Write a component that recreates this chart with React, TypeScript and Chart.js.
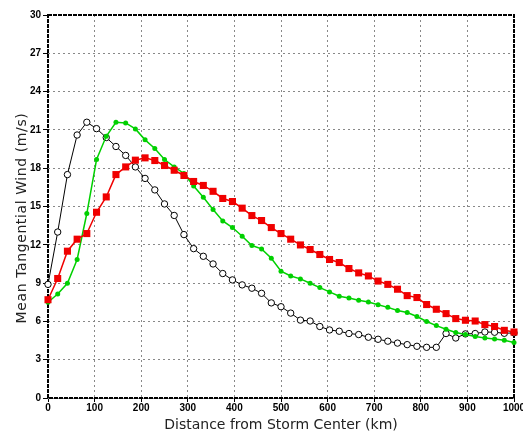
import React, { useEffect, useRef } from 'react';
import { Chart, registerables } from 'chart.js';

Chart.register(...registerables);

const distanceKm = [
  0, 20.8, 41.7, 62.5, 83.3, 104.2, 125, 145.8, 166.7, 187.5,
  208.3, 229.2, 250, 270.8, 291.7, 312.5, 333.3, 354.2, 375, 395.8,
  416.7, 437.5, 458.3, 479.2, 500, 520.8, 541.7, 562.5, 583.3, 604.2,
  625, 645.8, 666.7, 687.5, 708.3, 729.2, 750, 770.8, 791.7, 812.5,
  833.3, 854.2, 875, 895.8, 916.7, 937.5, 958.3, 979.2, 1000,
];

const blackWind = [
  8.9, 13.0, 17.5, 20.6, 21.6, 21.1, 20.4, 19.7, 19.0, 18.1,
  17.2, 16.3, 15.2, 14.3, 12.8, 11.7, 11.1, 10.5, 9.75, 9.25,
  8.86, 8.6, 8.2, 7.45, 7.15, 6.65, 6.1, 6.03, 5.6, 5.33,
  5.23, 5.05, 4.97, 4.76, 4.6, 4.45, 4.3, 4.18, 4.05, 3.97,
  3.97, 5.05, 4.7, 5.02, 5.05, 5.17, 5.15, 5.07, 5.1,
];

const redWind = [
  7.7, 9.36, 11.5, 12.44, 12.88, 14.55, 15.75, 17.5, 18.1, 18.63,
  18.81, 18.6, 18.21, 17.84, 17.43, 16.96, 16.65, 16.19, 15.63, 15.39,
  14.87, 14.29, 13.9, 13.35, 12.88, 12.44, 11.99, 11.63, 11.24, 10.85,
  10.61, 10.14, 9.8, 9.56, 9.16, 8.9, 8.52, 8.02, 7.87, 7.32,
  6.95, 6.61, 6.22, 6.09, 6.03, 5.75, 5.6, 5.3, 5.17,
];

const greenWind = [
  7.5, 8.14, 8.99, 10.85, 14.45, 18.68, 20.5, 21.6, 21.55, 21.08,
  20.22, 19.55, 18.68, 18.1, 17.59, 16.6, 15.72, 14.76, 13.87, 13.35,
  12.67, 11.94, 11.68, 10.95, 9.93, 9.56, 9.33, 8.99, 8.65, 8.31,
  7.97, 7.84, 7.66, 7.52, 7.3, 7.1, 6.86, 6.69, 6.38, 5.99,
  5.67, 5.38, 5.13, 4.97, 4.81, 4.7, 4.62, 4.52, 4.34,
];

const xTitle = 'Distance from Storm Center (km)';
const yTitle = 'Mean Tangential Wind (m/s)';

const toPoints = (ys: number[]) => ys.map((y, i) => ({ x: distanceKm[i], y }));

const framePlugin = {
  id: 'frame',
  beforeDatasetsDraw(chart: any) {
    const { ctx, chartArea } = chart;
    const { left, top, right, bottom } = chartArea;
    ctx.save();
    ctx.strokeStyle = '#000';
    ctx.lineWidth = 2;
    ctx.setLineDash([4, 1]);
    ctx.strokeRect(left, top, right - left, bottom - top);
    ctx.restore();
  },
  afterDraw(chart: any) {
    const { ctx } = chart;
    ctx.save();
    ctx.translate(25.5, 218);
    ctx.rotate(-Math.PI / 2);
    ctx.font = '14px "DejaVu Sans"';
    (ctx as any).letterSpacing = '0.6px';
    ctx.fillStyle = '#222';
    ctx.textAlign = 'center';
    ctx.textBaseline = 'alphabetic';
    ctx.fillText(yTitle, 0, 0);
    ctx.restore();
  },
};

export default function App() {
  const ref = useRef<HTMLCanvasElement | null>(null);

  useEffect(() => {
    if (!ref.current) return;
    const tickFont = { family: 'Liberation Sans', size: 10, weight: 'bold' as const };
    const titleFont = { family: 'DejaVu Sans', size: 14, weight: 'normal' as const };
    const chart = new Chart(ref.current, {
      type: 'line',
      data: {
        datasets: [
          {
            label: 'red',
            data: toPoints(redWind),
            borderColor: '#f00000',
            backgroundColor: '#f00000',
            borderWidth: 1.5,
            pointStyle: 'rect',
            pointRadius: 5,
            pointBorderWidth: 0,
            order: 0,
            clip: false as any,
          },
          {
            label: 'green',
            data: toPoints(greenWind),
            borderColor: '#00d000',
            backgroundColor: '#00d000',
            borderWidth: 1.5,
            pointStyle: 'circle',
            pointRadius: 2.5,
            pointBorderWidth: 0,
            order: 1,
            clip: false as any,
          },
          {
            label: 'black',
            data: toPoints(blackWind),
            borderColor: '#000',
            backgroundColor: '#fff',
            borderWidth: 1,
            pointStyle: 'circle',
            pointRadius: 3.2,
            pointBorderWidth: 1,
            pointBorderColor: '#000',
            pointBackgroundColor: '#fff',
            order: 2,
            clip: false as any,
          },
        ],
      },
      options: {
        animation: false,
        responsive: false,
        maintainAspectRatio: false,
        layout: { padding: { top: 15, right: 9, left: 0, bottom: 0 } },
        plugins: { legend: { display: false }, tooltip: { enabled: false } },
        elements: { line: { tension: 0 } },
        scales: {
          x: {
            type: 'linear',
            min: 0,
            max: 1000,
            ticks: {
              stepSize: 100, color: '#000', font: tickFont, padding: 0, maxRotation: 0, autoSkip: false,
              callback: (v: any) => String(v),
            },
            grid: { color: '#888', lineWidth: 1, tickLength: 4, tickColor: '#000', tickWidth: 1, tickBorderDash: [] },
            border: { display: false, dash: [2, 3] },
            title: { display: true, text: xTitle, color: '#222', font: titleFont, padding: { top: 0, bottom: 0 } },
            afterFit: (s: any) => { s.height = 36; s.paddingLeft = 0; s.paddingRight = 0; },
          },
          y: {
            type: 'linear',
            min: 0,
            max: 30,
            ticks: { stepSize: 3, color: '#000', font: tickFont, padding: 2, callback: (v: any) => String(v) },
            grid: { color: '#888', lineWidth: 1, tickLength: 5, tickColor: '#000', tickWidth: 1, tickBorderDash: [] },
            border: { display: false, dash: [2, 3] },
            title: { display: false },
            afterFit: (s: any) => { s.width = 48; s.paddingTop = 0; s.paddingBottom = 0; },
          },
        },
      },
      plugins: [framePlugin],
    });
    return () => chart.destroy();
  }, []);

  return (
    <div style={{ position: 'absolute', left: 0, top: 0, width: 523, height: 434, background: '#fff' }}>
      <canvas ref={ref} width={523} height={434} style={{ display: 'block', width: 523, height: 434 }} />
    </div>
  );
}
